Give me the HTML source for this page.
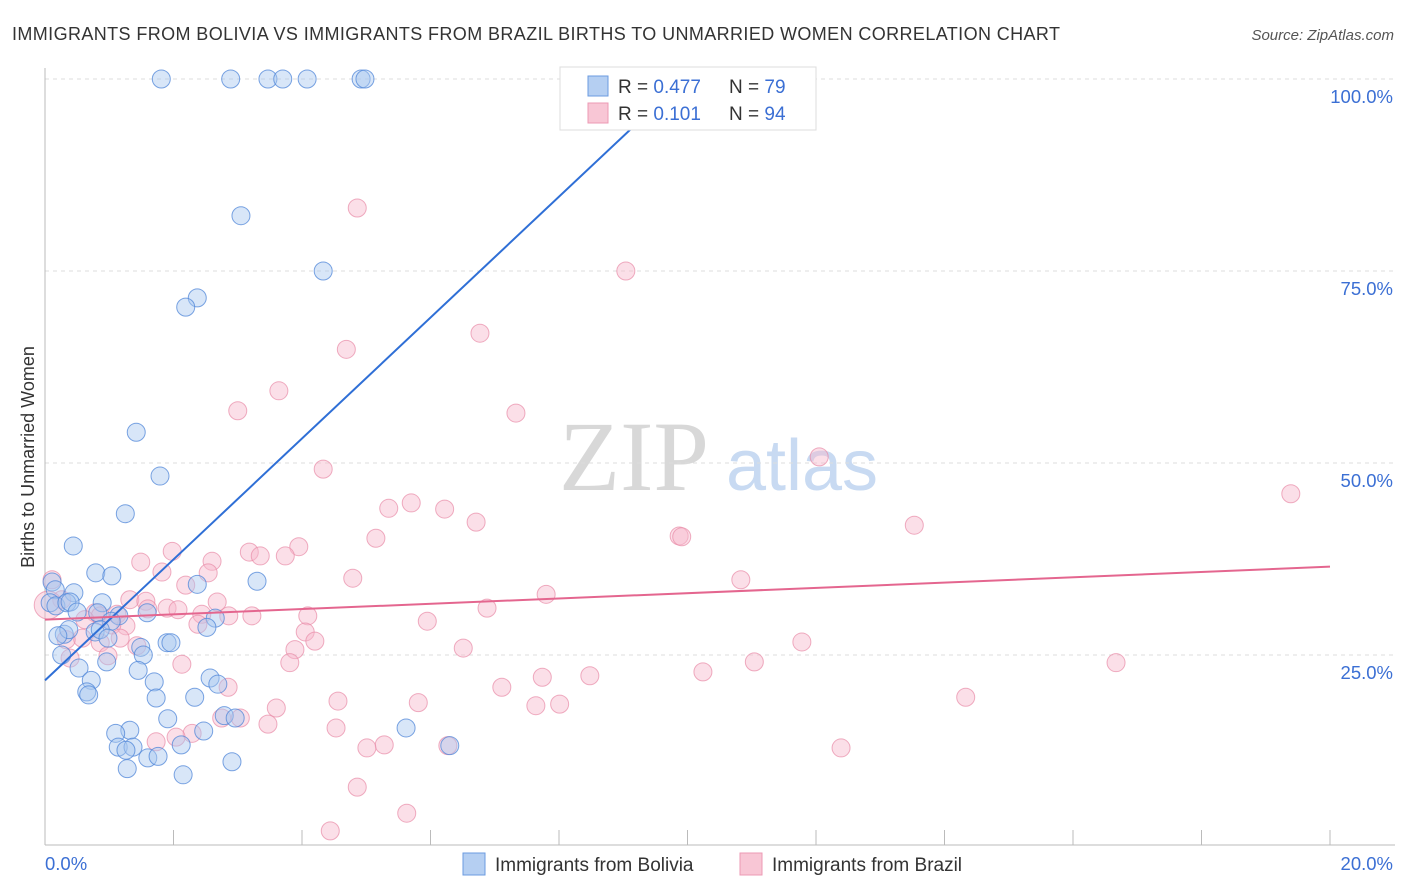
<!DOCTYPE html>
<html><head><meta charset="utf-8"><style>
body{margin:0;background:#fff;font-family:"Liberation Sans",sans-serif;}
svg{display:block}
</style></head><body>
<svg id="chart" width="1406" height="892">
<text x="12" y="40" font-size="18" fill="#333" textLength="1048" lengthAdjust="spacing">IMMIGRANTS FROM BOLIVIA VS IMMIGRANTS FROM BRAZIL BIRTHS TO UNMARRIED WOMEN CORRELATION CHART</text>
<text x="1394" y="40" font-size="15" fill="#555" font-style="italic" text-anchor="end">Source: ZipAtlas.com</text>
<text x="634" y="490" font-size="100" fill="#d8d8d8" font-family="Liberation Serif,serif" text-anchor="middle">ZIP</text>
<text x="802" y="490" font-size="72" fill="#c8daf2" text-anchor="middle">atlas</text>
<text transform="translate(34,457) rotate(-90)" font-size="18" fill="#333" text-anchor="middle">Births to Unmarried Women</text>
<g id="grid"></g><g id="pts"></g><g id="trend"></g>
<g>
<rect x="560" y="67" width="256" height="63" fill="#fff" stroke="#ddd"/>
<rect x="588" y="76" width="20" height="20" fill="#b5cff2" stroke="#6b9be0"/>
<rect x="588" y="103" width="20" height="20" fill="#f8c6d5" stroke="#ec9ab4"/>
<text x="618" y="93" font-size="19" fill="#333">R = <tspan fill="#3b6fd4">0.477</tspan></text>
<text x="729" y="93" font-size="19" fill="#333">N = <tspan fill="#3b6fd4">79</tspan></text>
<text x="618" y="120" font-size="19" fill="#333">R = <tspan fill="#3b6fd4"> 0.101</tspan></text>
<text x="729" y="120" font-size="19" fill="#333">N = <tspan fill="#3b6fd4">94</tspan></text>
</g>
<g>
<rect x="463" y="853" width="22" height="22" fill="#b5cff2" stroke="#6b9be0"/>
<text x="495" y="871" font-size="19" fill="#333">Immigrants from Bolivia</text>
<rect x="740" y="853" width="22" height="22" fill="#f8c6d5" stroke="#ec9ab4"/>
<text x="772" y="871" font-size="19" fill="#333">Immigrants from Brazil</text>
</g>
</svg>
<script>
const blueX=[1.81,2.89,3.47,3.70,4.08,4.92,4.98,3.05,4.33,2.37,2.19,1.42,1.79,1.25,0.44,0.79,1.04,3.30,2.37,0.11,0.16,0.45,0.08,0.17,0.34,0.39,0.89,1.59,1.15,0.82,0.50,2.65,2.52,1.03,0.30,0.37,0.78,0.86,0.98,0.20,1.49,1.90,1.96,1.53,0.26,0.96,1.45,0.53,0.72,1.70,2.57,2.69,0.65,0.68,1.73,2.33,1.91,2.79,2.96,5.62,1.32,1.10,2.47,1.14,1.37,1.26,2.12,6.30,1.60,1.76,1.28,2.15,2.91];
const blueY=[100,100,100,100,100,100,100,82.2,75,71.5,70.3,54,48.3,43.4,39.2,35.7,35.3,34.6,34.2,34.5,33.5,33.1,31.8,31.4,31.8,31.9,31.8,30.5,30.1,30.5,30.6,29.8,28.6,29.4,27.7,28.3,28,28.3,27.2,27.5,26,26.6,26.6,25,25,24.1,23,23.3,21.7,21.5,22,21.2,20.2,19.8,19.4,19.5,16.7,17.1,16.8,15.5,15.2,14.8,15.1,13,13,12.6,13.3,13.2,11.6,11.8,10.2,9.4,11.1];
const pinkX=[4.86,9.04,6.77,4.69,3.64,3.00,7.33,12.05,4.33,19.39,5.70,5.35,6.22,6.71,13.53,5.15,9.87,9.91,1.98,3.95,3.18,3.35,3.74,1.49,2.60,1.82,2.54,4.79,10.83,2.19,7.80,0.11,1.32,1.57,1.60,1.90,6.88,2.07,2.68,2.44,2.86,3.22,4.09,5.95,0.78,0.86,0.26,0.62,1.12,1.26,1.04,2.38,4.05,4.20,1.17,0.58,0.33,0.86,1.43,3.89,6.51,11.78,0.98,0.39,2.13,3.81,11.04,16.67,10.24,7.74,8.48,7.11,2.85,4.56,5.81,7.64,8.01,14.33,3.60,2.75,3.04,3.47,4.53,2.29,2.04,1.73,5.28,5.01,6.27,12.39,4.86,5.63,4.44,0.05];
const pinkY=[83.2,75,66.9,64.8,59.4,56.8,56.5,50.8,49.2,46,44.8,44.1,44,42.3,41.9,40.2,40.5,40.4,38.5,39.1,38.4,37.9,37.9,37.1,37.2,35.8,35.7,35,34.8,34.1,32.9,34.8,32.2,32,31,31.1,31.1,30.9,31.9,30.3,30.1,30.1,30.1,29.4,30.5,30.1,32.2,29.6,30.3,28.8,28.9,29,28,26.8,27.2,27.2,27,26.6,26.2,25.7,25.9,26.7,24.9,24.6,23.8,24,24.1,24,22.8,22.1,22.3,20.8,20.8,19,18.8,18.4,18.6,19.5,18.1,16.8,16.8,16,15.5,14.8,14.3,13.7,13.3,12.9,13.2,12.9,7.8,4.4,2.1,31.5];
const blueTrend=[[0,21.7],[9.21,94.2]];
const pinkTrend=[[0,29.6],[20,36.5]];
const yTicks=[25,50,75,100];
const yTickLabels=["25.0%","50.0%","75.0%","100.0%"];
const xs=v=>45+v*64.25, ys=v=>847-v*7.68;
const NS="http://www.w3.org/2000/svg";
function mk(p,t,a){const e=document.createElementNS(NS,t);for(const k in a)e.setAttribute(k,a[k]);p.appendChild(e);return e;}
const grid=document.getElementById('grid');
yTicks.forEach((t,i)=>{
 const l=mk(grid,'line',{x1:45,x2:1395,y1:ys(t),y2:ys(t),stroke:'#ddd','stroke-dasharray':'4,4'});
 
 
 const tx=mk(grid,'text',{x:1393,y:ys(t)+24,'font-size':18.5,fill:'#3b6fd4','text-anchor':'end'});
 tx.textContent=yTickLabels[i];
 
 
});
const ax=mk(grid,'line',{x1:45,x2:1395,y1:845,y2:845,stroke:'#bbb'});


const ay=mk(grid,'line',{x1:45,x2:45,y1:68,y2:845,stroke:'#bbb'});


for(let k=1;k<=10;k++){const t=mk(grid,'line',{x1:xs(k*2),x2:xs(k*2),y1:830,y2:845,stroke:'#bbb'});
 
 }
[["0.0%",45,'start'],["20.0%",1393,'end']].forEach(d=>{const t=mk(grid,'text',{x:d[1],y:870,'font-size':18.5,fill:'#3b6fd4','text-anchor':d[2]});t.textContent=d[0];
 
 });
const pts=document.getElementById('pts');
pinkX.forEach((x,i)=>{const c=mk(pts,'circle',{cx:xs(x),cy:ys(pinkY[i]),r:i==pinkX.length-1?14:9,fill:'#f6b8cb','fill-opacity':0.45,stroke:'#e88aa7','stroke-opacity':0.7});
 
 });
blueX.forEach((x,i)=>{const c=mk(pts,'circle',{cx:xs(x),cy:ys(blueY[i]),r:9,fill:'#a9c8f0','fill-opacity':0.45,stroke:'#4f86d8','stroke-opacity':0.75});
 
 });
const tr=document.getElementById('trend');
const bl=mk(tr,'line',{x1:xs(blueTrend[0][0]),y1:ys(blueTrend[0][1]),x2:xs(blueTrend[1][0]),y2:ys(blueTrend[1][1]),stroke:'#2f6fd6','stroke-width':2});


const pl=mk(tr,'line',{x1:xs(pinkTrend[0][0]),y1:ys(pinkTrend[0][1]),x2:xs(pinkTrend[1][0]),y2:ys(pinkTrend[1][1]),stroke:'#e4668f','stroke-width':2});


</script>
</body></html>
